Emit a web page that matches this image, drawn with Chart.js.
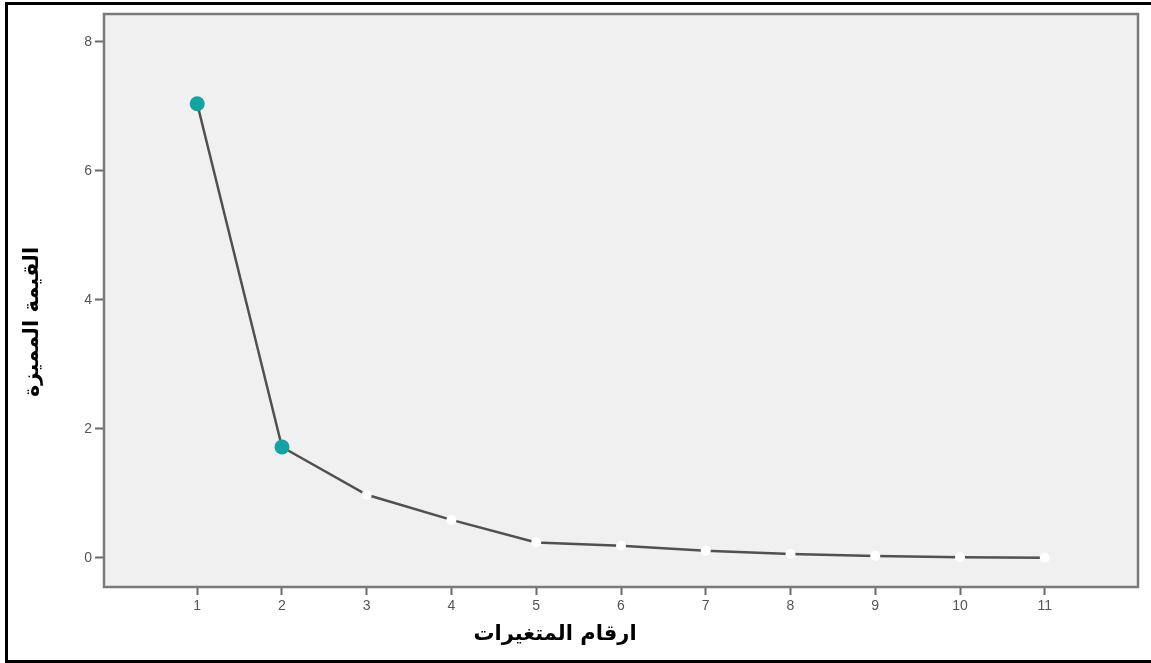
<!DOCTYPE html>
<html>
<head>
<meta charset="utf-8">
<script src="https://cdn.jsdelivr.net/npm/chart.js@4/dist/chart.umd.min.js"></script>
<style>
  html, body { margin: 0; padding: 0; background: #ffffff; }
  canvas { display: block; }
</style>
</head>
<body>
<canvas id="scree" width="1151" height="663"></canvas>
<script>
// Component numbers and their eigenvalues (scree plot)
const components = [1, 2, 3, 4, 5, 6, 7, 8, 9, 10, 11];
const eigenvalues = [7.04, 1.72, 0.98, 0.59, 0.24, 0.19, 0.11, 0.06, 0.03, 0.01, 0.005];
const yTickValues = [0, 2, 4, 6, 8];
const xTitle = 'ارقام المتغيرات';
const yTitle = 'القيمة المميزة';

// Components retained (eigenvalue > 1) get a filled teal marker
const pointColors = eigenvalues.map(v => v > 1 ? '#12a3a3' : '#ffffff');
const pointRadii = eigenvalues.map(v => v > 1 ? 7.5 : 5);

const frameAndTitles = {
  id: 'frameAndTitles',
  beforeDraw(chart) {
    const { ctx, chartArea: a } = chart;
    ctx.save();
    ctx.fillStyle = '#ffffff';
    ctx.fillRect(0, 0, chart.width, chart.height);
    // outer frame
    ctx.strokeStyle = '#000000';
    ctx.lineWidth = 3;
    ctx.strokeRect(6.5, 3.5, chart.width + 10, chart.height - 5);
    // plot background
    ctx.fillStyle = '#f0f0f0';
    ctx.fillRect(a.left, a.top, a.right - a.left, a.bottom - a.top);
    ctx.restore();
  },
  beforeDatasetsDraw(chart) {
    const { ctx, chartArea: a } = chart;
    ctx.save();
    ctx.strokeStyle = '#7a7a7a';
    ctx.lineWidth = 2.5;
    ctx.strokeRect(a.left, a.top, a.right - a.left, a.bottom - a.top);
    ctx.restore();
  },
  afterDraw(chart) {
    const { ctx } = chart;
    ctx.save();
    ctx.fillStyle = '#000000';
    ctx.font = 'bold 21px "DejaVu Sans", sans-serif';
    ctx.textAlign = 'center';
    ctx.textBaseline = 'middle';
    ctx.direction = 'rtl';
    ctx.fillText(xTitle, 555, 635);
    ctx.translate(33, 322);
    ctx.rotate(-Math.PI / 2);
    ctx.fillText(yTitle, 0, 0);
    ctx.restore();
  }
};

new Chart(document.getElementById('scree'), {
  type: 'line',
  data: {
    datasets: [{
      data: components.map((c, i) => ({ x: c, y: eigenvalues[i] })),
      borderColor: '#505050',
      borderWidth: 2.5,
      tension: 0,
      pointBackgroundColor: pointColors,
      pointBorderWidth: 0,
      pointRadius: pointRadii,
      pointHoverRadius: pointRadii
    }]
  },
  options: {
    responsive: false,
    animation: false,
    events: [],
    layout: { padding: { left: 0, top: 14, right: 13, bottom: 0 } },
    plugins: { legend: { display: false }, tooltip: { enabled: false } },
    scales: {
      x: {
        type: 'linear',
        min: -0.1,
        max: 12.1,
        afterBuildTicks: s => { s.ticks = components.map(v => ({ value: v })); },
        afterFit: s => { s.height = 76; },
        border: { display: false },
        grid: { display: true, drawOnChartArea: false, drawTicks: true, tickLength: 8, tickColor: '#6a6a6a', tickWidth: 2 },
        ticks: { color: '#555555', font: { family: '"Liberation Sans", Arial, sans-serif', size: 14 }, padding: 3, maxRotation: 0 }
      },
      y: {
        type: 'linear',
        min: -0.45,
        max: 8.43,
        afterBuildTicks: s => { s.ticks = yTickValues.map(v => ({ value: v })); },
        afterFit: s => { s.width = 104; },
        border: { display: false },
        grid: { display: true, drawOnChartArea: false, drawTicks: true, tickLength: 9, tickColor: '#6a6a6a', tickWidth: 2 },
        ticks: { color: '#555555', font: { family: '"Liberation Sans", Arial, sans-serif', size: 14 }, padding: 3 }
      }
    }
  },
  plugins: [frameAndTitles]
});
</script>
</body>
</html>
